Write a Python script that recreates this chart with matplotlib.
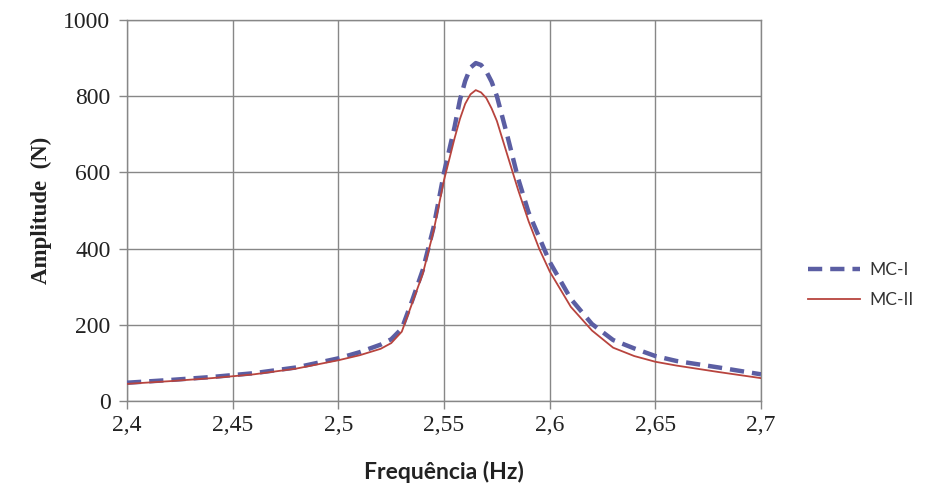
import matplotlib.pyplot as plt

# frequência (Hz) e amplitude (N) dos dois modelos
freq = [2.40, 2.42, 2.44, 2.46, 2.48, 2.50, 2.51, 2.52, 2.525, 2.53, 2.535,
        2.54, 2.545, 2.55, 2.555, 2.5575, 2.56, 2.5625, 2.565, 2.5675, 2.57,
        2.5725, 2.575, 2.58, 2.585, 2.59, 2.595, 2.60, 2.61, 2.62, 2.63,
        2.64, 2.65, 2.66, 2.68, 2.70]
mc1 = [48, 55, 63, 73, 88, 112, 128, 148, 162, 190, 265,
       345, 455, 600, 720, 790, 840, 875, 887, 882, 865,
       838, 800, 695, 585, 495, 430, 365, 268, 202, 160,
       138, 118, 105, 88, 70]
mc2 = [45, 52, 60, 70, 85, 107, 120, 137, 152, 182, 258,
       335, 445, 580, 690, 740, 780, 805, 816, 810, 795,
       768, 735, 645, 555, 472, 400, 340, 247, 185, 140,
       118, 103, 93, 76, 60]

xticks = [2.4, 2.45, 2.5, 2.55, 2.6, 2.65, 2.7]
xlabels = ["2,4", "2,45", "2,5", "2,55", "2,6", "2,65", "2,7"]
yticks = [0, 200, 400, 600, 800, 1000]

grey = "#878787"

fig = plt.figure(figsize=(9.28, 4.93), dpi=100)
ax = fig.add_axes([0.1369, 0.1866, 0.6832, 0.7728])

ax.plot(freq, mc1, color="#5B5EA3", lw=3.2, dashes=(3.2, 1.8), label="MC-I",
        zorder=3, solid_joinstyle="round")
ax.plot(freq, mc2, color="#B8443E", lw=1.3, label="MC-II", zorder=4)

ax.set_xlim(2.4, 2.7)
ax.set_ylim(0, 1000)
ax.set_xticks(xticks)
ax.set_xticklabels(xlabels)
ax.set_yticks(yticks)
ax.grid(True, color=grey, lw=1.0)
ax.set_axisbelow(True)
for s in ax.spines.values():
    s.set_color(grey)
    s.set_linewidth(1.0)
ax.tick_params(direction="out", length=6, color=grey, width=1.0)
for lab in ax.get_xticklabels() + ax.get_yticklabels():
    lab.set_fontfamily("Liberation Serif")
    lab.set_fontsize(17)
    lab.set_color("#222222")
ax.tick_params(axis="x", pad=4)
ax.tick_params(axis="y", pad=6)

ax.set_xlabel("Frequência (Hz)", fontfamily="Lato", fontweight="bold",
              fontsize=16.5, color="#222222", labelpad=18)
ax.set_ylabel("Amplitude  (N)", fontfamily="Liberation Serif",
              fontweight="bold", fontsize=16.5, color="#222222", labelpad=8)

leg = ax.legend(loc="center left", bbox_to_anchor=(1.05, 0.305), frameon=False,
                prop={"family": "Lato", "size": 12.5}, handlelength=3.0,
                handletextpad=0.5, labelspacing=0.8)
for t in leg.get_texts():
    t.set_color("#333333")

fig.savefig("out.png", dpi=100)
